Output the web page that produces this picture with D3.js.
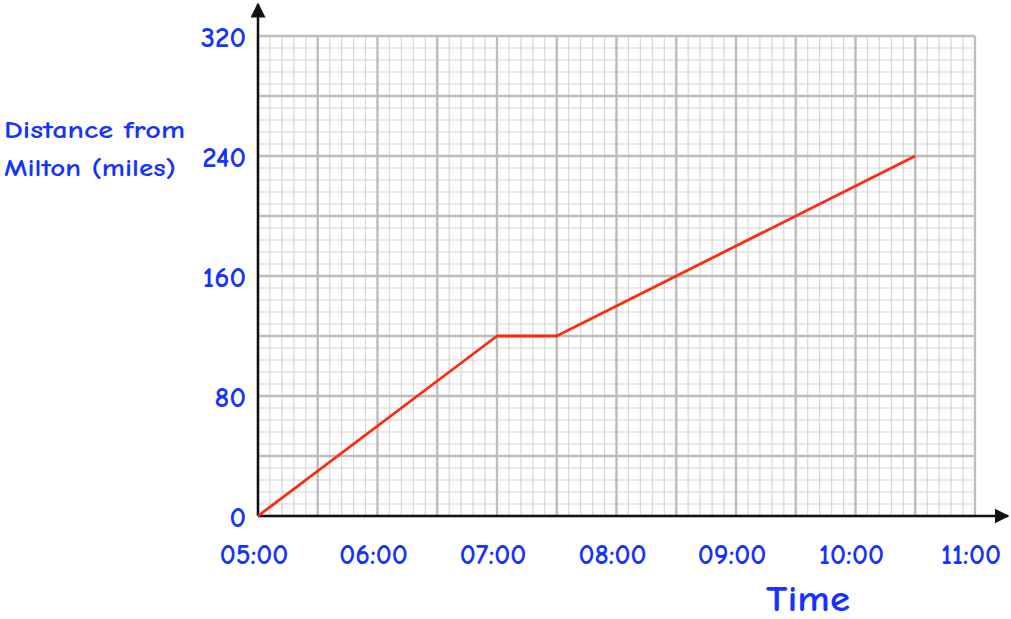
<!DOCTYPE html>
<html>
<head>
<meta charset="utf-8">
<script src="https://cdn.jsdelivr.net/npm/d3@7"></script>
<style>
body { margin: 0; background: #fff; }
</style>
</head>
<body>
<script>
// journey data, times in hours after midnight
var times = [5, 7, 7.5, 10.5];
var distances = [0, 120, 120, 240];
var xTickLabels = ["05:00", "06:00", "07:00", "08:00", "09:00", "10:00", "11:00"];
var yTickValues = [0, 80, 160, 240, 320];

var w = 1011;
var h = 619;
var blue = "#1433ff";
var font = "'Comic Sans MS', 'Comic Neue', 'Noto Sans', sans-serif";

var svg = d3.select("body")
	.append("svg")
	.attr("width", w)
	.attr("height", h);

var x = d3.scaleLinear().domain([5, 11]).range([258, 975]);
var y = d3.scaleLinear().domain([0, 320]).range([516, 36]);

// minor grid: every 6 minutes / 8 miles
var minorX = d3.range(0, 61).map(function(i){ return 5 + i * 0.1; });
var minorY = d3.range(0, 41).map(function(i){ return i * 8; });
var majorX = d3.range(0, 13).map(function(i){ return 5 + i * 0.5; });
var majorY = d3.range(0, 9).map(function(i){ return i * 40; });

var grid = svg.append("g");
grid.selectAll("line.mx")
	.data(minorX)
	.enter()
	.append("line")
	.attr("class", "mx")
	.attr("x1", function(d){ return x(d); })
	.attr("x2", function(d){ return x(d); })
	.attr("y1", y(0))
	.attr("y2", y(320))
	.attr("stroke", "#d6d6d6")
	.attr("stroke-width", 1.2);
grid.selectAll("line.my")
	.data(minorY)
	.enter()
	.append("line")
	.attr("class", "my")
	.attr("x1", x(5))
	.attr("x2", x(11))
	.attr("y1", function(d){ return y(d); })
	.attr("y2", function(d){ return y(d); })
	.attr("stroke", "#d6d6d6")
	.attr("stroke-width", 1.2);
grid.selectAll("line.Mx")
	.data(majorX)
	.enter()
	.append("line")
	.attr("class", "Mx")
	.attr("x1", function(d){ return x(d); })
	.attr("x2", function(d){ return x(d); })
	.attr("y1", y(0))
	.attr("y2", y(320))
	.attr("stroke", "#bdbdbd")
	.attr("stroke-width", 2.4);
grid.selectAll("line.My")
	.data(majorY)
	.enter()
	.append("line")
	.attr("class", "My")
	.attr("x1", x(5))
	.attr("x2", x(11))
	.attr("y1", function(d){ return y(d); })
	.attr("y2", function(d){ return y(d); })
	.attr("stroke", "#bdbdbd")
	.attr("stroke-width", 2.4);

// axes with arrows
svg.append("defs").append("marker")
	.attr("id", "arrow")
	.attr("viewBox", "0 0 10 10")
	.attr("refX", 9)
	.attr("refY", 5)
	.attr("markerWidth", 6)
	.attr("markerHeight", 6)
	.attr("markerUnits", "strokeWidth")
	.attr("orient", "auto")
	.append("path")
	.attr("d", "M0,0 L10,5 L0,10 z")
	.attr("fill", "#111");

svg.append("line")
	.attr("x1", x(5)).attr("y1", y(0))
	.attr("x2", 1008).attr("y2", y(0))
	.attr("stroke", "#111").attr("stroke-width", 2.5)
	.attr("marker-end", "url(#arrow)");
svg.append("line")
	.attr("x1", x(5)).attr("y1", y(0))
	.attr("x2", x(5)).attr("y2", 4)
	.attr("stroke", "#111").attr("stroke-width", 2.5)
	.attr("marker-end", "url(#arrow)");

// journey line
var line = d3.line()
	.x(function(d, i){ return x(times[i]); })
	.y(function(d){ return y(d); });
svg.append("path")
	.datum(distances)
	.attr("d", line)
	.attr("fill", "none")
	.attr("stroke", "#ff2a12")
	.attr("stroke-width", 2.8)
	.attr("stroke-linejoin", "round");

// tick labels
svg.selectAll("text.xt")
	.data(xTickLabels)
	.enter()
	.append("text")
	.attr("class", "xt")
	.text(function(d){ return d; })
	.attr("x", function(d, i){ return x(5 + i) - 4; })
	.attr("y", 564)
	.attr("text-anchor", "middle")
	.attr("font-family", font)
	.attr("font-weight", "bold")
	.attr("font-size", 28)
	.attr("fill", blue);

svg.selectAll("text.yt")
	.data(yTickValues)
	.enter()
	.append("text")
	.attr("class", "yt")
	.text(function(d){ return d; })
	.attr("x", 246)
	.attr("y", function(d){ return y(d) + 11; })
	.attr("text-anchor", "end")
	.attr("font-family", font)
	.attr("font-weight", "bold")
	.attr("font-size", 29)
	.attr("fill", blue);

// axis titles
svg.append("text")
	.text("Time")
	.attr("x", 808)
	.attr("y", 611)
	.attr("text-anchor", "middle")
	.attr("textLength", 84)
	.attr("lengthAdjust", "spacingAndGlyphs")
	.attr("font-family", font)
	.attr("font-weight", "bold")
	.attr("font-size", 37)
	.attr("fill", blue);

svg.append("text")
	.text("Distance from")
	.attr("x", 4)
	.attr("y", 138)
	.attr("textLength", 181)
	.attr("lengthAdjust", "spacingAndGlyphs")
	.attr("font-family", font)
	.attr("font-weight", "bold")
	.attr("font-size", 25)
	.attr("fill", blue);
svg.append("text")
	.text("Milton (miles)")
	.attr("x", 4)
	.attr("y", 176)
	.attr("textLength", 172)
	.attr("lengthAdjust", "spacingAndGlyphs")
	.attr("font-family", font)
	.attr("font-weight", "bold")
	.attr("font-size", 25)
	.attr("fill", blue);
</script>
</body>
</html>
